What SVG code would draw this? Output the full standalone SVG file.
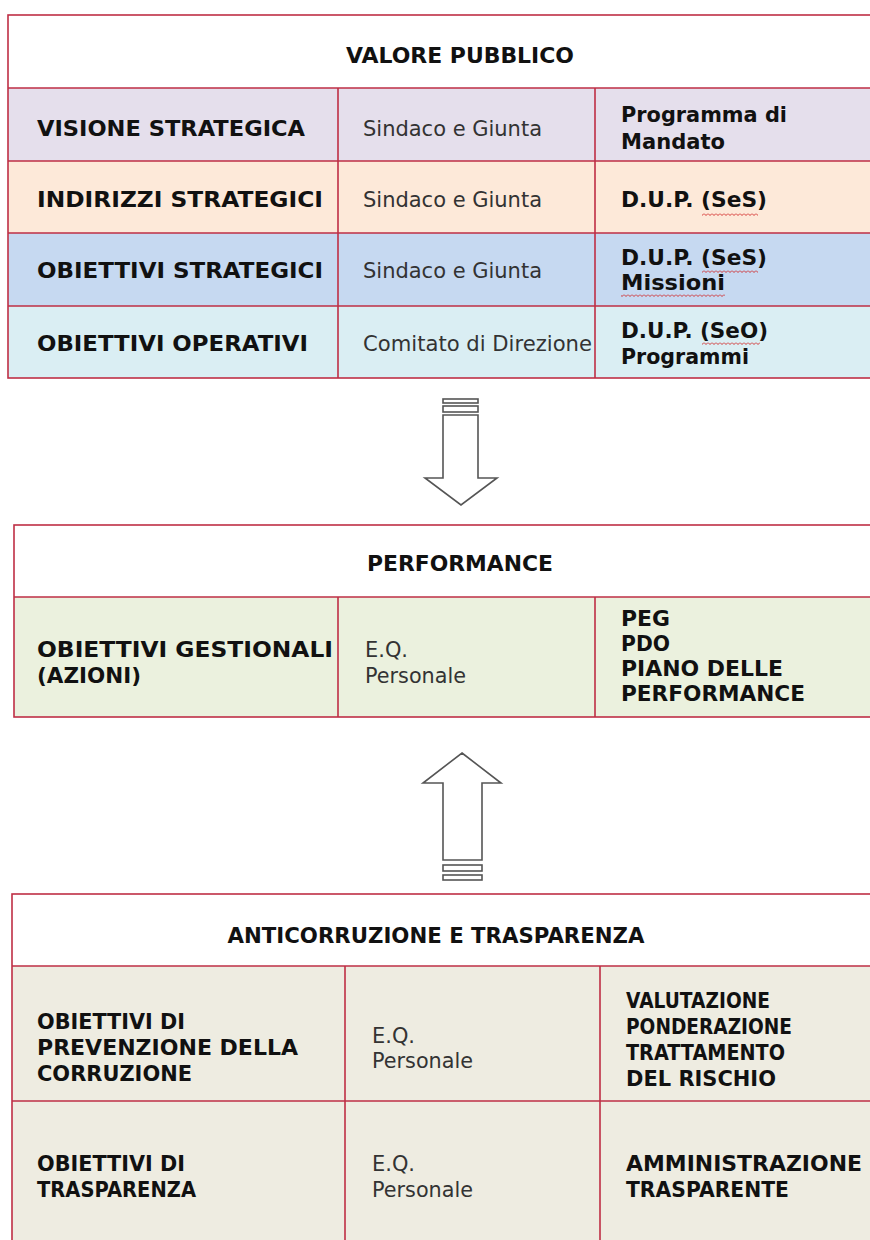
<svg xmlns="http://www.w3.org/2000/svg" width="870" height="1240" viewBox="0 0 870 1240">
<defs>
<pattern id="zz" x="0" y="0" width="4" height="3" patternUnits="userSpaceOnUse">
<path d="M0,0.5L2,2.5L4,0.5" fill="none" stroke="#d02020" stroke-width="0.9"/>
</pattern>
</defs>
<style>
.ln{stroke:#bf2f45;stroke-width:1.6;fill:none}
.b{font-family:"DejaVu Sans",Verdana,sans-serif;font-weight:bold;font-size:22px;fill:#111}
.r{font-family:"DejaVu Sans",Verdana,sans-serif;font-size:22px;fill:#333}
.hd{font-family:"DejaVu Sans",Verdana,sans-serif;font-weight:bold;font-size:22px;fill:#111;text-anchor:middle}
.arr{fill:#fff;stroke:#555;stroke-width:1.6}
</style>
<rect width="870" height="1240" fill="#fff"/>

<g id="valore-pubblico">
<rect x="8" y="15" width="880" height="73" fill="#fff"/>
<rect x="8" y="88" width="880" height="73" fill="#e5dfec"/>
<rect x="8" y="161" width="880" height="72" fill="#fde9d9"/>
<rect x="8" y="233" width="880" height="73" fill="#c6d9f1"/>
<rect x="8" y="306" width="880" height="72" fill="#daeef3"/>
<rect class="ln" x="8" y="15" width="880" height="363"/>
<path class="ln" d="M8,88H888M8,161H888M8,233H888M8,306H888M338,88V378M595,88V378"/>
<text class="hd" x="460" y="63" textLength="228" lengthAdjust="spacingAndGlyphs">VALORE PUBBLICO</text>
<text class="b" x="37" y="136" textLength="268" lengthAdjust="spacingAndGlyphs">VISIONE STRATEGICA</text>
<text class="r" x="363" y="136" textLength="179" lengthAdjust="spacingAndGlyphs">Sindaco e Giunta</text>
<text class="b" x="621" y="122" textLength="166" lengthAdjust="spacingAndGlyphs">Programma di</text>
<text class="b" x="621" y="149" textLength="104" lengthAdjust="spacingAndGlyphs">Mandato</text>
<text class="b" x="37" y="207" textLength="286" lengthAdjust="spacingAndGlyphs">INDIRIZZI STRATEGICI</text>
<text class="r" x="363" y="207" textLength="179" lengthAdjust="spacingAndGlyphs">Sindaco e Giunta</text>
<text class="b" x="621" y="207" textLength="146" lengthAdjust="spacingAndGlyphs">D.U.P. (SeS)</text>
<rect x="702" y="213" width="56" height="3" fill="url(#zz)"/>
<text class="b" x="37" y="278" textLength="286" lengthAdjust="spacingAndGlyphs">OBIETTIVI STRATEGICI</text>
<text class="r" x="363" y="278" textLength="179" lengthAdjust="spacingAndGlyphs">Sindaco e Giunta</text>
<text class="b" x="621" y="265" textLength="146" lengthAdjust="spacingAndGlyphs">D.U.P. (SeS)</text>
<rect x="702" y="270" width="56" height="3" fill="url(#zz)"/>
<text class="b" x="621" y="290" textLength="104" lengthAdjust="spacingAndGlyphs">Missioni</text>
<rect x="621" y="294" width="104" height="3" fill="url(#zz)"/>
<text class="b" x="37" y="351" textLength="271" lengthAdjust="spacingAndGlyphs">OBIETTIVI OPERATIVI</text>
<text class="r" x="363" y="351" textLength="229" lengthAdjust="spacingAndGlyphs">Comitato di Direzione</text>
<text class="b" x="621" y="338" textLength="147" lengthAdjust="spacingAndGlyphs">D.U.P. (SeO)</text>
<rect x="702" y="342" width="58" height="3" fill="url(#zz)"/>
<text class="b" x="621" y="364" textLength="128" lengthAdjust="spacingAndGlyphs">Programmi</text>
</g>

<g id="performance">
<rect x="14" y="525" width="880" height="72" fill="#fff"/>
<rect x="14" y="597" width="880" height="120" fill="#ebf1de"/>
<rect class="ln" x="14" y="525" width="880" height="192"/>
<path class="ln" d="M14,597H894M338,597V717M595,597V717"/>
<text class="hd" x="460" y="571" textLength="186" lengthAdjust="spacingAndGlyphs">PERFORMANCE</text>
<text class="b" x="37" y="657" textLength="296" lengthAdjust="spacingAndGlyphs">OBIETTIVI GESTIONALI</text>
<text class="b" x="37" y="683" textLength="104" lengthAdjust="spacingAndGlyphs">(AZIONI)</text>
<text class="r" x="365" y="657" textLength="43" lengthAdjust="spacingAndGlyphs">E.Q.</text>
<text class="r" x="365" y="683" textLength="101" lengthAdjust="spacingAndGlyphs">Personale</text>
<text class="b" x="621" y="626" textLength="49" lengthAdjust="spacingAndGlyphs">PEG</text>
<text class="b" x="621" y="651" textLength="49" lengthAdjust="spacingAndGlyphs">PDO</text>
<text class="b" x="621" y="676" textLength="162" lengthAdjust="spacingAndGlyphs">PIANO DELLE</text>
<text class="b" x="621" y="701" textLength="184" lengthAdjust="spacingAndGlyphs">PERFORMANCE</text>
</g>

<g id="anticorruzione-trasparenza">
<rect x="12" y="894" width="880" height="72" fill="#fff"/>
<rect x="12" y="966" width="880" height="135" fill="#eeece1"/>
<rect x="12" y="1101" width="880" height="149" fill="#eeece1"/>
<rect class="ln" x="12" y="894" width="880" height="356"/>
<path class="ln" d="M12,966H892M12,1101H892M345,966V1250M600,966V1250"/>
<text class="hd" x="436" y="943" textLength="417" lengthAdjust="spacingAndGlyphs">ANTICORRUZIONE E TRASPARENZA</text>
<text class="b" x="37" y="1029" textLength="148" lengthAdjust="spacingAndGlyphs">OBIETTIVI DI</text>
<text class="b" x="37" y="1055" textLength="261" lengthAdjust="spacingAndGlyphs">PREVENZIONE DELLA</text>
<text class="b" x="37" y="1081" textLength="155" lengthAdjust="spacingAndGlyphs">CORRUZIONE</text>
<text class="r" x="372" y="1043" textLength="43" lengthAdjust="spacingAndGlyphs">E.Q.</text>
<text class="r" x="372" y="1068" textLength="101" lengthAdjust="spacingAndGlyphs">Personale</text>
<text class="b" x="626" y="1008" textLength="144" lengthAdjust="spacingAndGlyphs">VALUTAZIONE</text>
<text class="b" x="626" y="1034" textLength="166" lengthAdjust="spacingAndGlyphs">PONDERAZIONE</text>
<text class="b" x="626" y="1060" textLength="159" lengthAdjust="spacingAndGlyphs">TRATTAMENTO</text>
<text class="b" x="626" y="1086" textLength="150" lengthAdjust="spacingAndGlyphs">DEL RISCHIO</text>
<text class="b" x="37" y="1171" textLength="148" lengthAdjust="spacingAndGlyphs">OBIETTIVI DI</text>
<text class="b" x="37" y="1197" textLength="159" lengthAdjust="spacingAndGlyphs">TRASPARENZA</text>
<text class="r" x="372" y="1171" textLength="43" lengthAdjust="spacingAndGlyphs">E.Q.</text>
<text class="r" x="372" y="1197" textLength="101" lengthAdjust="spacingAndGlyphs">Personale</text>
<text class="b" x="626" y="1171" textLength="236" lengthAdjust="spacingAndGlyphs">AMMINISTRAZIONE</text>
<text class="b" x="626" y="1197" textLength="163" lengthAdjust="spacingAndGlyphs">TRASPARENTE</text>
</g>

<g id="connectors">
<rect class="arr" x="443" y="399" width="35" height="4"/>
<rect class="arr" x="443" y="406" width="35" height="6"/>
<path class="arr" d="M443,415H478V478H497L461,505L425,478H443Z"/>
<path class="arr" d="M462,753L501,783H482V860H443V783H423Z"/>
<rect class="arr" x="443" y="865" width="39" height="6"/>
<rect class="arr" x="443" y="875" width="39" height="5"/>
</g>
</svg>
